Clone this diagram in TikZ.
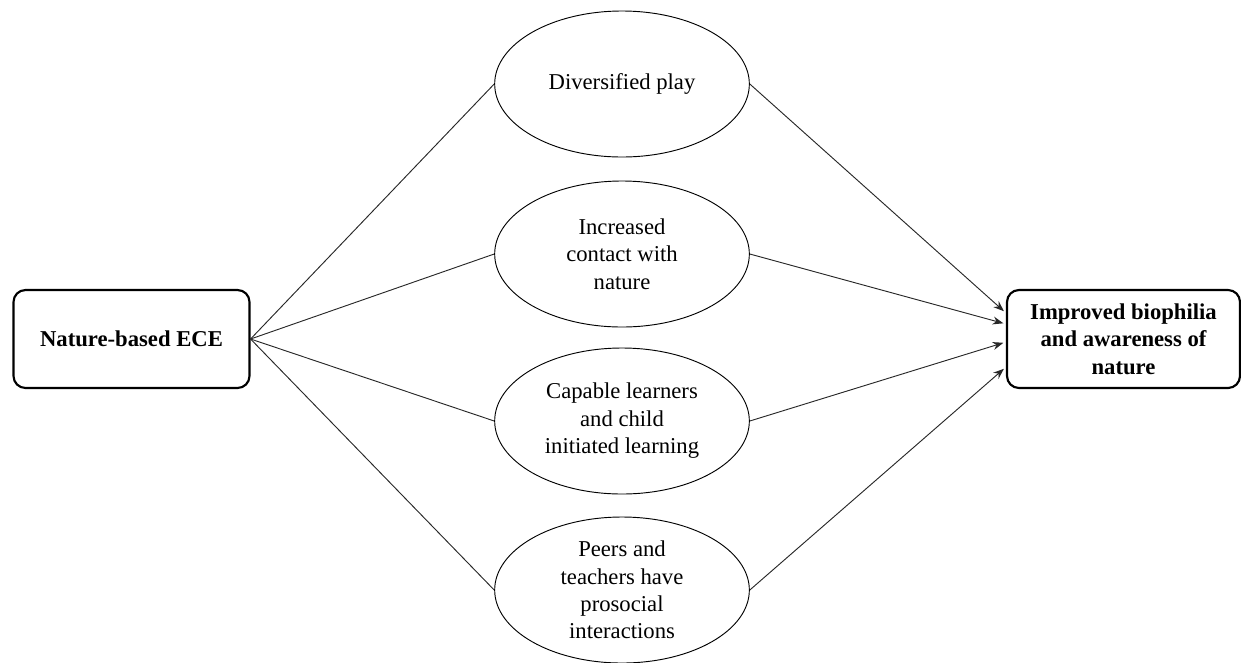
\documentclass[tikz,border=0pt]{standalone}
\usepackage{fontspec}
\setmainfont{Liberation Serif}
\usetikzlibrary{shapes.geometric,arrows.meta,calc}

\tikzset{every picture/.style={line width=0.75pt}}
\tikzset{
  endbox/.style={draw, line width=1.6pt, rounded corners=9pt, minimum width=177pt, minimum height=73.5pt, align=center, inner sep=0pt, font=\fontsize{17}{20.6}\selectfont\bfseries},
  oval/.style={draw, line width=0.7pt, ellipse, minimum width=191pt, minimum height=109.5pt, align=center, inner sep=0pt, font=\fontsize{17}{20.6}\selectfont},
  link/.style={draw={rgb,255:red,40;green,40;blue,40}, line width=0.7pt},
  feed/.style={link, -{Stealth[length=8pt,width=6pt]}, shorten >=2pt}
}

\begin{document}
\begin{tikzpicture}[x=0.75pt,y=0.75pt,yscale=-1,xscale=1]
\useasboundingbox (0,0) rectangle (1241,662);

%Shape: Rounded Rect [left]
\node [endbox] (ece) at (131.5,339) {Nature-based ECE};
%Shape: Rounded Rect [right]
\node [endbox, minimum width=174.75pt] (bio) at (1123.5,339) {Improved biophilia\\and awareness of\\nature};

%Shape: Ellipse
\node [oval] (play) at (622,84) {Diversified play};
%Shape: Ellipse
\node [oval] (contact) at (622,254) {Increased\\contact with\\nature};
%Shape: Ellipse
\node [oval] (learn) at (622,421) {Capable learners\\and child\\initiated learning};
%Shape: Ellipse
\node [oval] (peers) at (622,590) {Peers and\\teachers have\\prosocial\\interactions};

%Straight Lines
\draw [link] (ece.east) -- (play.west);
\draw [link] (ece.east) -- (contact.west);
\draw [link] (ece.east) -- (learn.west);
\draw [link] (ece.east) -- (peers.west);

%Straight Lines
\draw [feed] (play.east) -- ($(bio.west)+(0,-26)$);
\draw [feed] (contact.east) -- ($(bio.west)+(0,-15)$);
\draw [feed] (learn.east) -- ($(bio.west)+(0,3)$);
\draw [feed] (peers.east) -- ($(bio.west)+(0,28)$);

\end{tikzpicture}
\end{document}
